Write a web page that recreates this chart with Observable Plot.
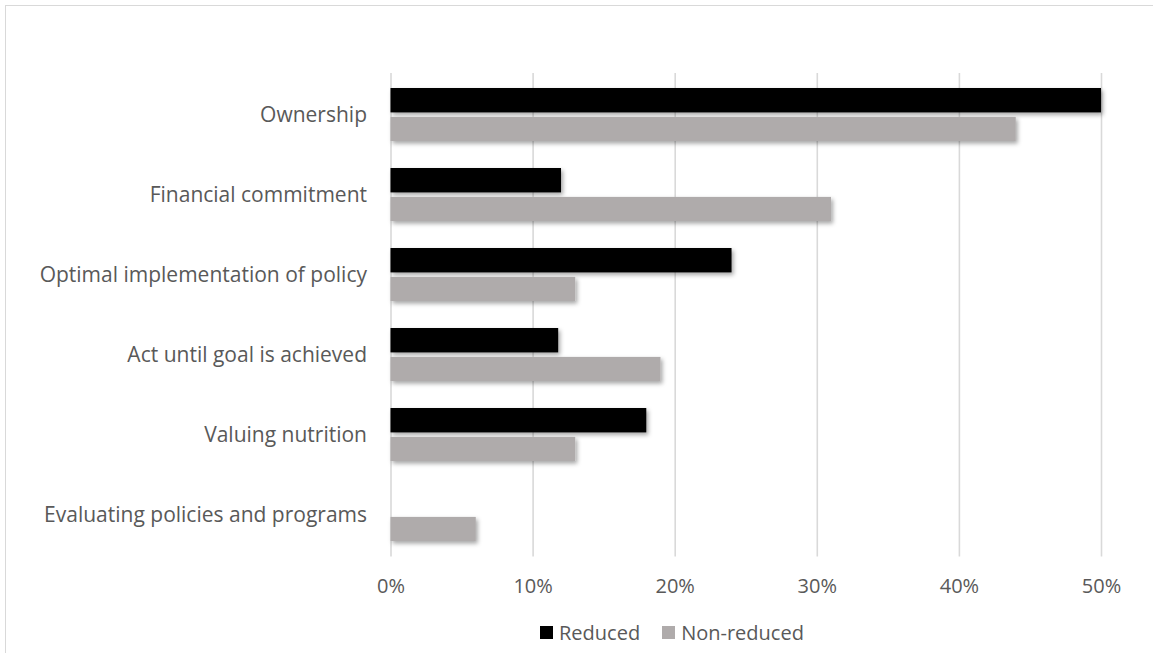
<!DOCTYPE html>
<html>
<head>
<meta charset="utf-8">
<script src="https://cdn.jsdelivr.net/npm/d3@7"></script>
<script src="https://cdn.jsdelivr.net/npm/@observablehq/plot@0.6"></script>
<style>
  html, body { margin: 0; padding: 0; background: #fff; }
  #wrap { position: relative; width: 1153px; height: 653px; overflow: hidden; }
  #frame { position: absolute; left: 5px; top: 5px; width: 1300px; height: 800px;
           border-top: 1.5px solid #d9d9d9; border-left: 1.5px solid #d9d9d9; pointer-events: none; }
  #chart { position: absolute; left: 0; top: 0; }
  #legend { position: absolute; left: 540px; top: 619px; font-family: "Open Sans", sans-serif;
            font-size: 20px; color: #595959; display: flex; align-items: center; white-space: nowrap; }
  .sw { width: 13px; height: 13px; display: inline-block; margin-right: 6px; }
  .item { display: flex; align-items: center; margin-right: 22px; }
</style>
</head>
<body>
<div id="wrap">
  <div id="frame"></div>
  <div id="chart"></div>
  <div id="legend"></div>
</div>
<script>
const categories = [
  "Ownership",
  "Financial commitment",
  "Optimal implementation of policy",
  "Act until goal is achieved",
  "Valuing nutrition",
  "Evaluating policies and programs"
];
const seriesNames = ["Reduced", "Non-reduced"];
const reduced    = [0.50, 0.12, 0.24, 0.118, 0.18, 0.00];
const nonReduced = [0.44, 0.31, 0.13, 0.19, 0.13, 0.06];
const xTicks = [0, 0.1, 0.2, 0.3, 0.4, 0.5];
const colors = ["#000000", "#AFABAB"];

const reducedData = categories.map((c, i) => ({category: c, value: reduced[i]}));
const nonReducedData = categories.map((c, i) => ({category: c, value: nonReduced[i]}));

const plot = Plot.plot({
  width: 1153,
  height: 610,
  marginTop: 73,
  marginBottom: 53.4,
  marginLeft: 390.5,
  marginRight: 52,
  style: {fontFamily: "'Open Sans', sans-serif", fontSize: "20px", color: "#595959", background: "transparent"},
  x: {domain: [0, 0.5], ticks: xTicks, tickFormat: d3.format(".0%"), tickSize: 0, tickPadding: 22, label: null},
  y: {domain: categories, paddingInner: 0.34, paddingOuter: 0.17, tickSize: 0, tickPadding: 24, label: null},
  marks: [
    Plot.ruleX(xTicks, {stroke: "#d9d9d9", strokeWidth: 1.6}),
    Plot.barX(reducedData, {y: "category", x: "value", fill: colors[0], insetBottom: 28.6}),
    Plot.barX(nonReducedData, {y: "category", x: "value", fill: colors[1], insetTop: 28.9})
  ]
});

const sel = d3.select(plot);
sel.insert("defs", ":first-child").html(
  '<filter id="sh" x="-5%" y="-40%" width="120%" height="200%">' +
  '<feDropShadow dx="2" dy="2.5" stdDeviation="2" flood-color="#000" flood-opacity="0.35"/></filter>'
);
sel.selectAll('g[aria-label="bar"]').attr("filter", "url(#sh)");
sel.selectAll('g[aria-label^="y-axis"]').attr("font-size", 21).style("font-size", "21px");

document.getElementById("chart").appendChild(plot);

const legend = document.getElementById("legend");
seriesNames.forEach((name, i) => {
  const item = document.createElement("span");
  item.className = "item";
  const sw = document.createElement("span");
  sw.className = "sw";
  sw.style.background = colors[i];
  const t = document.createElement("span");
  t.textContent = name;
  item.appendChild(sw);
  item.appendChild(t);
  legend.appendChild(item);
});
</script>
</body>
</html>
